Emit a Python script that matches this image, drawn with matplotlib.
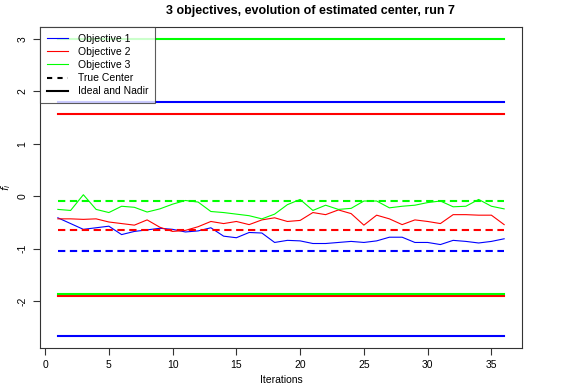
import numpy as np
import matplotlib
matplotlib.use("Agg")
import matplotlib.pyplot as plt

plt.rcParams['font.family'] = ['Liberation Sans', 'DejaVu Sans']

iterations = np.arange(1, 37)

# estimated center, one value per iteration
obj1 = [-0.41, -0.52, -0.63, -0.60, -0.57, -0.73, -0.67, -0.64, -0.61, -0.63,
        -0.68, -0.66, -0.60, -0.76, -0.79, -0.69, -0.70, -0.88, -0.84, -0.85,
        -0.90, -0.90, -0.88, -0.86, -0.88, -0.85, -0.78, -0.78, -0.88, -0.88,
        -0.92, -0.84, -0.86, -0.89, -0.86, -0.81]
obj2 = [-0.43, -0.43, -0.44, -0.43, -0.49, -0.52, -0.55, -0.45, -0.59, -0.67,
        -0.65, -0.58, -0.48, -0.52, -0.48, -0.54, -0.45, -0.41, -0.48, -0.46,
        -0.31, -0.35, -0.26, -0.33, -0.55, -0.36, -0.43, -0.54, -0.45, -0.48,
        -0.52, -0.35, -0.35, -0.36, -0.36, -0.54]
obj3 = [-0.25, -0.27, 0.03, -0.25, -0.31, -0.19, -0.21, -0.30, -0.24, -0.15,
        -0.08, -0.11, -0.29, -0.31, -0.34, -0.37, -0.43, -0.34, -0.16, -0.06,
        -0.27, -0.17, -0.25, -0.23, -0.09, -0.09, -0.22, -0.19, -0.17, -0.12,
        -0.09, -0.20, -0.19, -0.06, -0.19, -0.24]

true_center = [-1.05, -0.65, -0.09]
ideal = [-2.665, -1.90, -1.855]
nadir = [1.80, 1.56, 3.00]
colors = ['#0000ff', '#ff0000', '#00ff00']
names = ['Objective 1', 'Objective 2', 'Objective 3']

W, H = 581, 388
fig = plt.figure(figsize=(W / 100, H / 100), dpi=100)
ax = fig.add_axes([40 / W, 1 - 348 / H, (522 - 40) / W, (348 - 27) / H])

series = [obj1, obj2, obj3]
for k in range(3):
    ax.plot(iterations, series[k], color=colors[k], lw=0.8)
    ax.plot(iterations, np.full(len(iterations), true_center[k]), color=colors[k],
            lw=1.5, dashes=(3.5, 2.2))
    ax.plot(iterations, np.full(len(iterations), ideal[k]), color=colors[k], lw=1.5)
    ax.plot(iterations, np.full(len(iterations), nadir[k]), color=colors[k], lw=1.5)

ymin = min(ideal)
ymax = max(nadir)
pad = 0.04 * (ymax - ymin)
ax.set_ylim(ymin - pad, ymax + pad)
ax.set_xlim(1 - 0.04 * 35, 36 + 0.04 * 35)

ax.set_xticks([0, 5, 10, 15, 20, 25, 30, 35])
ax.set_yticks([-2, -1, 0, 1, 2, 3])
ax.set_yticklabels(['-2', '-1', '0', '1', '2', '3'], rotation=90, va='center')
ax.tick_params(direction='out', length=5, width=0.8, labelsize=7.5, color='#333333', pad=4)
for sp in ax.spines.values():
    sp.set_linewidth(0.8)
    sp.set_color('#333333')

ax.set_xlabel('Iterations', fontsize=7.5, labelpad=3)
ax.set_ylabel('$f_i$', fontsize=7.5, labelpad=3)
fig.text(310 / W, 1 - 11 / H, '3 objectives, evolution of estimated center, run 7',
         fontsize=9, fontweight='bold', ha='center', va='center')

handles = [plt.Line2D([], [], color=c, lw=0.8) for c in colors]
handles.append(plt.Line2D([], [], color='black', lw=1.5, dashes=(2.5, 2.5)))
handles.append(plt.Line2D([], [], color='black', lw=1.5))
leg = ax.legend(handles, names + ['True Center', 'Ideal and Nadir'],
                loc='upper left', bbox_to_anchor=(0, 1), borderaxespad=0,
                fontsize=7.5, frameon=True, fancybox=False, handlelength=2.0,
                labelspacing=0.3, borderpad=0.65, handletextpad=1.0)
leg.get_frame().set_edgecolor('#333333')
leg.get_frame().set_linewidth(0.8)

fig.savefig('out.png', dpi=100)
